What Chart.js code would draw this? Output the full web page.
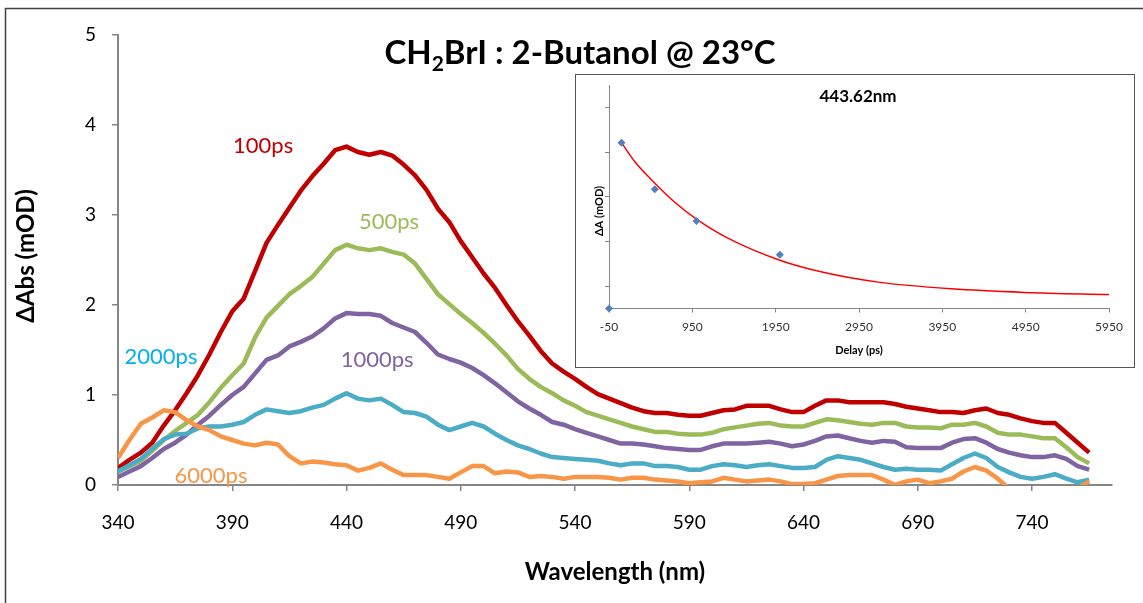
<!DOCTYPE html>
<html>
<head>
<meta charset="utf-8">
<script src="https://cdn.jsdelivr.net/npm/chart.js@4.4.0/dist/chart.umd.min.js"></script>
<style>
  body { margin: 0; background: #fff; overflow: hidden; }
  #wrap { position: relative; width: 1143px; height: 603px; }
  #main { position: absolute; left: 0; top: 0; }
  #inset { position: absolute; left: 575px; top: 74px; border: 1px solid #555; background: #fff; }
  #inset canvas { display: block; }
</style>
</head>
<body>
<div id="wrap">
  <canvas id="main" width="1143" height="603"></canvas>
  <div id="inset"><canvas id="fit" width="558" height="292"></canvas></div>
</div>
<script>
// wavelength grid (nm)
const wavelengths = [
  340, 345, 350, 355, 360, 365, 370, 375, 380, 385,
  390, 395, 400, 405, 410, 415, 420, 425, 430, 435,
  440, 445, 450, 455, 460, 465, 470, 475, 480, 485,
  490, 495, 500, 505, 510, 515, 520, 525, 530, 535,
  540, 545, 550, 555, 560, 565, 570, 575, 580, 585,
  590, 595, 600, 605, 610, 615, 620, 625, 630, 635,
  640, 645, 650, 655, 660, 665, 670, 675, 680, 685,
  690, 695, 700, 705, 710, 715, 720, 725, 730, 735,
  740, 745, 750, 755, 760, 765
];

const abs100 = [
  0.19, 0.28, 0.36, 0.47, 0.66, 0.83, 1.02, 1.22, 1.45, 1.70,
  1.93, 2.07, 2.38, 2.69, 2.89, 3.08, 3.27, 3.43, 3.57, 3.72,
  3.76, 3.70, 3.67, 3.70, 3.66, 3.56, 3.44, 3.28, 3.07, 2.92,
  2.71, 2.53, 2.35, 2.19, 2.00, 1.82, 1.66, 1.49, 1.35, 1.26,
  1.18, 1.09, 1.01, 0.96, 0.91, 0.86, 0.82, 0.80, 0.80, 0.78,
  0.77, 0.77, 0.80, 0.83, 0.84, 0.88, 0.88, 0.88, 0.84, 0.81,
  0.81, 0.88, 0.94, 0.94, 0.92, 0.92, 0.92, 0.92, 0.90, 0.87,
  0.85, 0.83, 0.81, 0.81, 0.80, 0.83, 0.85, 0.80, 0.78, 0.74,
  0.71, 0.69, 0.69, 0.58, 0.47, 0.36
];
const abs500 = [
  0.15, 0.21, 0.27, 0.38, 0.50, 0.60, 0.69, 0.78, 0.92, 1.08,
  1.22, 1.35, 1.64, 1.86, 1.99, 2.12, 2.21, 2.31, 2.46, 2.61,
  2.67, 2.63, 2.61, 2.63, 2.59, 2.56, 2.46, 2.29, 2.12, 2.01,
  1.90, 1.80, 1.69, 1.57, 1.44, 1.29, 1.18, 1.09, 1.02, 0.94,
  0.88, 0.81, 0.77, 0.73, 0.69, 0.65, 0.62, 0.59, 0.59, 0.57,
  0.56, 0.56, 0.58, 0.62, 0.64, 0.66, 0.68, 0.69, 0.66, 0.65,
  0.65, 0.69, 0.73, 0.72, 0.70, 0.68, 0.67, 0.69, 0.69, 0.65,
  0.64, 0.64, 0.63, 0.67, 0.67, 0.69, 0.65, 0.58, 0.56, 0.56,
  0.54, 0.52, 0.52, 0.42, 0.31, 0.24
];
const abs1000 = [
  0.09, 0.15, 0.21, 0.30, 0.40, 0.47, 0.56, 0.67, 0.77, 0.89,
  1.00, 1.09, 1.24, 1.39, 1.44, 1.54, 1.59, 1.65, 1.74, 1.85,
  1.91, 1.90, 1.90, 1.88, 1.80, 1.75, 1.70, 1.58, 1.45, 1.40,
  1.36, 1.30, 1.22, 1.13, 1.03, 0.93, 0.85, 0.78, 0.70, 0.67,
  0.62, 0.58, 0.54, 0.50, 0.46, 0.46, 0.45, 0.43, 0.41, 0.40,
  0.39, 0.39, 0.43, 0.46, 0.46, 0.46, 0.47, 0.48, 0.46, 0.43,
  0.45, 0.49, 0.54, 0.55, 0.52, 0.49, 0.47, 0.49, 0.48, 0.42,
  0.41, 0.41, 0.41, 0.47, 0.51, 0.52, 0.47, 0.40, 0.36, 0.33,
  0.31, 0.31, 0.33, 0.29, 0.21, 0.17
];
const abs2000 = [
  0.15, 0.22, 0.29, 0.40, 0.51, 0.56, 0.57, 0.63, 0.65, 0.65,
  0.67, 0.70, 0.78, 0.84, 0.82, 0.80, 0.82, 0.86, 0.89, 0.96,
  1.02, 0.96, 0.94, 0.96, 0.89, 0.81, 0.80, 0.76, 0.67, 0.61,
  0.65, 0.69, 0.65, 0.57, 0.50, 0.44, 0.40, 0.35, 0.31, 0.30,
  0.29, 0.28, 0.27, 0.24, 0.22, 0.24, 0.24, 0.21, 0.21, 0.20,
  0.17, 0.17, 0.21, 0.23, 0.22, 0.20, 0.22, 0.23, 0.21, 0.19,
  0.19, 0.20, 0.28, 0.32, 0.30, 0.28, 0.24, 0.20, 0.17, 0.18,
  0.17, 0.17, 0.16, 0.23, 0.30, 0.35, 0.30, 0.20, 0.14, 0.09,
  0.07, 0.09, 0.12, 0.07, 0.03, 0.06
];
const abs6000 = [
  0.30, 0.50, 0.68, 0.75, 0.83, 0.81, 0.72, 0.65, 0.61, 0.54,
  0.50, 0.46, 0.44, 0.47, 0.45, 0.32, 0.24, 0.26, 0.25, 0.23,
  0.22, 0.16, 0.19, 0.24, 0.17, 0.11, 0.11, 0.11, 0.09, 0.07,
  0.14, 0.21, 0.21, 0.13, 0.15, 0.14, 0.09, 0.10, 0.09, 0.07,
  0.09, 0.09, 0.09, 0.08, 0.06, 0.08, 0.08, 0.06, 0.05, 0.04,
  0.02, 0.03, 0.04, 0.08, 0.06, 0.04, 0.05, 0.06, 0.04, 0.01,
  0.01, 0.02, 0.06, 0.10, 0.11, 0.11, 0.11, 0.06, 0.00, 0.04,
  0.06, 0.02, 0.04, 0.07, 0.15, 0.20, 0.16, 0.07, -0.04, -0.05,
  -0.05, -0.05, -0.05, -0.05, -0.04, 0.04
];

const xTicks = [340, 390, 440, 490, 540, 590, 640, 690, 740];
const yTicks = [0, 1, 2, 3, 4, 5];

// inset: kinetics at 443.62 nm
const delays = [-50, 100, 500, 1000, 2000, 6000];
const dA = [-0.5, 3.21, 2.17, 1.46, 0.70, -0.24];
const fitDelays = [100, 270, 470, 750, 1000, 1370, 2000, 2520, 3180, 4060, 4940, 5960];
const fitValues = [3.21, 2.76, 2.36, 1.86, 1.50, 1.08, 0.58, 0.31, 0.09, -0.06, -0.14, -0.19];
const insetXTicks = [-50, 950, 1950, 2950, 3950, 4950, 5950];

const SERIES = [
  { name: '100ps', data: abs100, color: '#c00000', labelColor: '#c00000', at: [403.5, 3.77] },
  { name: '500ps', data: abs500, color: '#9bbb59', labelColor: '#9bbb59', at: [458.6, 2.92] },
  { name: '1000ps', data: abs1000, color: '#8064a2', labelColor: '#8064a2', at: [453.4, 1.39] },
  { name: '2000ps', data: abs2000, color: '#4bacc6', labelColor: '#00b0f0', at: [358.8, 1.42] },
  { name: '6000ps', data: abs6000, color: '#f79646', labelColor: '#f79646', at: [380.7, 0.10] },
];

const FONT = 'Lato, "Open Sans", sans-serif';
const AXIS = '#868686';

const mainText = {
    id: 'mainText',
    beforeDraw(chart) {
        const ctx = chart.ctx;
        ctx.save();
        ctx.strokeStyle = '#404040';
        ctx.lineWidth = 1.5;
        ctx.beginPath();
        ctx.moveTo(5.5, 603);
        ctx.lineTo(5.5, 8.5);
        ctx.lineTo(1143, 8.5);
        ctx.stroke();
        ctx.restore();
    },
    afterDraw(chart) {
        const { ctx, scales } = chart;
        ctx.save();
        ctx.fillStyle = '#000';
        ctx.textBaseline = 'alphabetic';

        // title with subscript
        const big = 'bold 33px ' + FONT, small = 'bold 21px ' + FONT;
        const parts = [['CH', big, 0], ['2', small, 7], ['BrI : 2-Butanol @ 23°C', big, 0]];
        let w = 0;
        parts.forEach(p => { ctx.font = p[1]; w += ctx.measureText(p[0]).width; });
        let px = 580 - w / 2;
        ctx.textAlign = 'left';
        parts.forEach(p => {
            ctx.font = p[1];
            ctx.fillText(p[0], px, 64 + p[2]);
            px += ctx.measureText(p[0]).width;
        });

        // axis titles
        ctx.textAlign = 'center';
        ctx.textBaseline = 'middle';
        ctx.font = 'bold 24px ' + FONT;
        ctx.fillText('Wavelength (nm)', 615, 572);
        ctx.save();
        ctx.translate(26, 256);
        ctx.rotate(-Math.PI / 2);
        ctx.fillText('ΔAbs (mOD)', 0, 0);
        ctx.restore();

        // series labels
        ctx.font = '22px ' + FONT;
        SERIES.forEach(s => {
            ctx.fillStyle = s.labelColor;
            ctx.fillText(s.name, scales.x.getPixelForValue(s.at[0]), scales.y.getPixelForValue(s.at[1]));
        });
        ctx.restore();
    }
};

new Chart(document.getElementById('main'), {
    type: 'line',
    data: {
        datasets: SERIES.map((s, i) => ({
            label: s.name,
            data: wavelengths.map((wl, j) => ({ x: wl, y: s.data[j] })),
            borderColor: s.color,
            borderWidth: 4.5,
            borderJoinStyle: 'round',
            pointRadius: 0,
            tension: 0,
            order: SERIES.length - i,
        })),
    },
    options: {
        responsive: false,
        animation: false,
        devicePixelRatio: 1,
        layout: { padding: { left: 0, top: 35, right: 31, bottom: 0 } },
        plugins: { legend: { display: false }, tooltip: { enabled: false } },
        scales: {
            x: {
                type: 'linear',
                min: 340,
                max: 775,
                afterBuildTicks: sc => { sc.ticks = xTicks.map(v => ({ value: v })); },
                afterFit: sc => { sc.height = 118; },
                ticks: { color: '#000', font: { family: FONT, size: 19 }, padding: 20, maxRotation: 0 },
                grid: { drawOnChartArea: false, drawTicks: true, tickLength: 6, color: AXIS, lineWidth: 1.5 },
                border: { color: AXIS, width: 2 },
            },
            y: {
                min: 0,
                max: 5,
                afterBuildTicks: sc => { sc.ticks = yTicks.map(v => ({ value: v })); },
                afterFit: sc => { sc.width = 118; },
                ticks: { color: '#000', font: { family: FONT, size: 19 }, padding: 16 },
                grid: { drawOnChartArea: false, drawTicks: true, tickLength: 6, color: AXIS, lineWidth: 1.5 },
                border: { color: AXIS, width: 2 },
            },
        },
    },
    plugins: [mainText],
});

const insetText = {
    id: 'insetText',
    afterDraw(chart) {
        const ctx = chart.ctx;
        ctx.save();
        ctx.fillStyle = '#000';
        ctx.textAlign = 'center';
        ctx.textBaseline = 'middle';
        ctx.font = 'bold 17px ' + FONT;
        ctx.fillText('443.62nm', 282, 22);
        ctx.font = 'bold 11px ' + FONT;
        ctx.fillText('Delay (ps)', 283, 275);
        ctx.translate(23, 136);
        ctx.rotate(-Math.PI / 2);
        ctx.fillText('ΔA (mOD)', 0, 0);
        ctx.restore();
    }
};

new Chart(document.getElementById('fit'), {
    type: 'scatter',
    data: {
        datasets: [
            {
                label: 'data',
                data: delays.map((d, i) => ({ x: d, y: dA[i] })),
                pointStyle: 'rectRot',
                pointRadius: 4,
                backgroundColor: '#4f81bd',
                borderColor: '#4f81bd',
                borderWidth: 0,
                clip: false,
            },
            {
                label: 'fit',
                data: fitDelays.map((d, i) => ({ x: d, y: fitValues[i] })),
                showLine: true,
                borderColor: '#ff0000',
                borderWidth: 1.5,
                pointRadius: 0,
                cubicInterpolationMode: 'monotone',
            },
        ],
    },
    options: {
        responsive: false,
        animation: false,
        devicePixelRatio: 1,
        layout: { padding: { left: 0, top: 10, right: 25, bottom: 0 } },
        plugins: { legend: { display: false }, tooltip: { enabled: false } },
        scales: {
            x: {
                type: 'linear',
                min: -50,
                max: 5950,
                afterBuildTicks: sc => { sc.ticks = insetXTicks.map(v => ({ value: v })); },
                afterFit: sc => { sc.height = 58.5; },
                ticks: { color: '#333', font: { family: FONT, size: 12 }, padding: 7, maxRotation: 0, callback: v => String(v) },
                grid: { drawOnChartArea: false, drawTicks: true, tickLength: 4, color: AXIS, lineWidth: 1 },
                border: { color: AXIS, width: 1 },
            },
            y: {
                min: -0.5,
                max: 4.5,
                afterBuildTicks: sc => { sc.ticks = [0, 1, 2, 3, 4].map(v => ({ value: v })); },
                afterFit: sc => { sc.width = 33; },
                ticks: { display: false },
                grid: { drawOnChartArea: false, drawTicks: true, tickLength: 4, color: AXIS, lineWidth: 1 },
                border: { color: AXIS, width: 1 },
            },
        },
    },
    plugins: [insetText],
});
</script>
</body>
</html>
